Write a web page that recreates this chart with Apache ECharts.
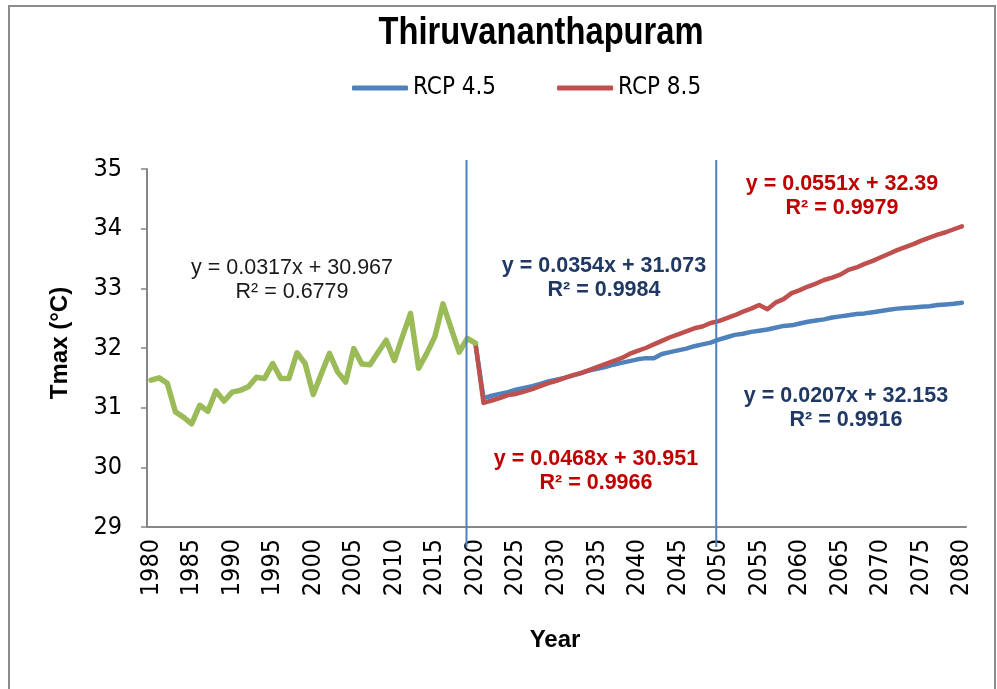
<!DOCTYPE html>
<html lang="en">
<head>
    <meta charset="UTF-8">
    <title>Thiruvananthapuram</title>
    <script src="https://cdn.jsdelivr.net/npm/echarts@6/dist/echarts.min.js"></script>
    <style>
        html, body { margin: 0; padding: 0; background: #fff; }
        #chart { width: 997px; height: 689px; }
    </style>
</head>
<body>
    <div id="chart"></div>
    <script>
        // data
        const years = [];
        for (let y = 1980; y <= 2080; y++) years.push(String(y));

        // observed Tmax, 1980-2020
        const observed = [31.46, 31.50, 31.41, 30.93, 30.84, 30.73, 31.04, 30.94, 31.28, 31.11,
            31.26, 31.29, 31.35, 31.51, 31.49, 31.74, 31.49, 31.49, 31.92, 31.74,
            31.22, 31.57, 31.91, 31.60, 31.43, 31.99, 31.73, 31.72, 31.93, 32.13,
            31.79, 32.19, 32.58, 31.66, 31.91, 32.19, 32.74, 32.33, 31.93, 32.16,
            32.08];

        // projections, 2021-2080
        const rcp45 = [31.16, 31.20, 31.23, 31.26, 31.30, 31.33, 31.36, 31.40, 31.44, 31.47,
            31.50, 31.54, 31.58, 31.62, 31.65, 31.68, 31.72, 31.75, 31.78, 31.81,
            31.83, 31.83, 31.90, 31.93, 31.96, 31.99, 32.03, 32.06, 32.09, 32.14,
            32.18, 32.22, 32.24, 32.27, 32.29, 32.31, 32.34, 32.37, 32.38, 32.41,
            32.44, 32.46, 32.48, 32.51, 32.53, 32.55, 32.57, 32.58, 32.60, 32.62,
            32.64, 32.66, 32.67, 32.68, 32.69, 32.70, 32.72, 32.73, 32.74, 32.76];
        const rcp85 = [31.08, 31.12, 31.16, 31.21, 31.23, 31.27, 31.31, 31.36, 31.41, 31.45,
            31.50, 31.54, 31.58, 31.63, 31.68, 31.73, 31.78, 31.83, 31.90, 31.95,
            32.00, 32.06, 32.12, 32.18, 32.23, 32.28, 32.33, 32.36, 32.42, 32.45,
            32.50, 32.55, 32.61, 32.66, 32.72, 32.65, 32.76, 32.82, 32.92, 32.97,
            33.03, 33.08, 33.14, 33.18, 33.23, 33.31, 33.35, 33.41, 33.46, 33.52,
            33.58, 33.64, 33.69, 33.74, 33.80, 33.85, 33.90, 33.94, 33.99, 34.04];

        const yTicks = [29, 30, 31, 32, 33, 34, 35];
        const dividerYears = [2018.9, 2049.7];

        // trend equations printed on the chart
        const trendNotes = [
            { lines: ['y = 0.0317x + 30.967', 'R² = 0.6779'], x: 292, y: 268, color: '#1a1a1a', bold: false },
            { lines: ['y = 0.0354x + 31.073', 'R² = 0.9984'], x: 604, y: 266, color: '#1F3864', bold: true },
            { lines: ['y = 0.0551x + 32.39', 'R² = 0.9979'], x: 842, y: 184, color: '#C00000', bold: true },
            { lines: ['y = 0.0207x + 32.153', 'R² = 0.9916'], x: 846, y: 396, color: '#1F3864', bold: true },
            { lines: ['y = 0.0468x + 30.951', 'R² = 0.9966'], x: 596, y: 459, color: '#C00000', bold: true }
        ];

        const narrow = "'DejaVu Sans Condensed', 'Liberation Sans Narrow', sans-serif";
        const normal = "'Liberation Sans', Arial, sans-serif";

        const lead = observed.length - 1;
        const pad = n => new Array(n).fill(null);
        const rcp45Data = pad(lead).concat([observed[lead]], rcp45);
        const rcp85Data = pad(lead).concat([observed[lead]], rcp85);

        const chart = echarts.init(document.getElementById('chart'));
        chart.setOption({
            animation: false,
            backgroundColor: '#fff',
            grid: { left: 147, right: 31, top: 169, bottom: 162 },
            legend: {
                data: ['RCP 4.5', 'RCP 8.5'],
                left: 352,
                top: 76,
                padding: 0,
                icon: 'roundRect',
                itemWidth: 56,
                itemHeight: 5,
                itemGap: 61,
                textStyle: { fontFamily: narrow, fontSize: 24, color: '#000' }
            },
            xAxis: [{
                type: 'category',
                data: years,
                boundaryGap: true,
                axisLine: { lineStyle: { color: '#868686', width: 2 } },
                axisTick: { interval: 0, length: 5, lineStyle: { color: '#868686', width: 1.5 } },
                axisLabel: { interval: 4, rotate: 90, margin: 12, fontFamily: narrow, fontSize: 25, color: '#000' },
                splitLine: { show: false }
            }, {
                type: 'value',
                min: 1979.5,
                max: 2080.5,
                show: false
            }],
            yAxis: {
                type: 'value',
                min: yTicks[0],
                max: yTicks[yTicks.length - 1],
                interval: 1,
                axisLine: { show: true, lineStyle: { color: '#868686', width: 2 } },
                axisTick: { show: true, length: 6, lineStyle: { color: '#868686', width: 1.5 } },
                axisLabel: { margin: 25, fontFamily: narrow, fontSize: 25, color: '#000' },
                splitLine: { show: false }
            },
            series: [{
                name: 'RCP 4.5',
                type: 'line',
                data: rcp45Data,
                showSymbol: false,
                color: '#4F81BD',
                lineStyle: { width: 4.5, cap: 'round', join: 'round' }
            }, {
                name: 'RCP 8.5',
                type: 'line',
                data: rcp85Data,
                showSymbol: false,
                color: '#C0504D',
                lineStyle: { width: 4.5, cap: 'round', join: 'round' }
            }, {
                name: 'Observed',
                type: 'line',
                data: observed,
                showSymbol: false,
                color: '#9BBB59',
                lineStyle: { width: 5.5, cap: 'round', join: 'round' }
            }]
        });

        // vertical dividers and text annotations
        const plotTop = chart.convertToPixel({ yAxisIndex: 0 }, yTicks[yTicks.length - 1]);
        const plotBase = chart.convertToPixel({ yAxisIndex: 0 }, yTicks[0]);
        const graphic = [{
            type: 'rect',
            shape: { x: 9, y: 6, width: 986, height: 700 },
            style: { fill: 'none', stroke: '#8c8c8c', lineWidth: 2 },
            z: 0
        }, {
            type: 'text',
            x: 541, y: 34,
            scaleX: 0.86,
            style: { text: 'Thiruvananthapuram', fontFamily: normal, fontWeight: 'bold', fontSize: 38,
                fill: '#000', align: 'center', verticalAlign: 'middle' }
        }, {
            type: 'text',
            x: 60, y: 343,
            rotation: Math.PI / 2,
            style: { text: 'Tmax (°C)', fontFamily: normal, fontWeight: 'bold', fontSize: 24,
                fill: '#000', align: 'center', verticalAlign: 'middle' }
        }, {
            type: 'text',
            x: 555, y: 640,
            style: { text: 'Year', fontFamily: normal, fontWeight: 'bold', fontSize: 24,
                fill: '#000', align: 'center', verticalAlign: 'middle' }
        }];
        dividerYears.forEach(yr => {
            const px = chart.convertToPixel({ xAxisIndex: 1 }, yr);
            graphic.push({
                type: 'line',
                shape: { x1: px, y1: plotTop - 9, x2: px, y2: plotBase + 20 },
                style: { stroke: '#4F81BD', lineWidth: 2 },
                z: 10
            });
        });
        trendNotes.forEach(n => {
            n.lines.forEach((t, i) => {
                graphic.push({
                    type: 'text',
                    x: n.x, y: n.y + i * 24,
                    style: { text: t, fontFamily: normal, fontWeight: n.bold ? 'bold' : 'normal',
                        fontSize: 21.5, fill: n.color, align: 'center', verticalAlign: 'middle' },
                    z: 20
                });
            });
        });
        chart.setOption({ graphic: graphic });
    </script>
</body>
</html>
